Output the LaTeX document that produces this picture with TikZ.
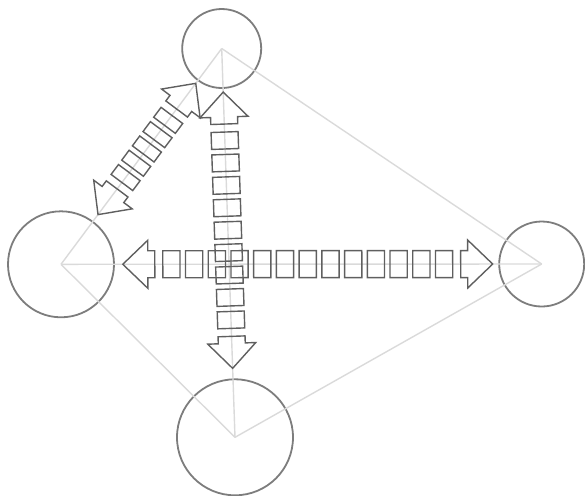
\documentclass[tikz,border=0pt]{standalone}
\usetikzlibrary{calc}
\definecolor{ringgray}{RGB}{125,125,125}
\definecolor{linkgray}{RGB}{218,218,218}
\definecolor{arrowgray}{RGB}{95,95,95}
\tikzset{
  ring/.style={circle, draw=ringgray, line width=0.9pt, inner sep=0pt},
  link/.style={draw=linkgray, line width=0.7pt},
  blockline/.style={draw=arrowgray, line width=0.7pt, line join=miter},
}
\newcommand{\blockarrow}[3]{%
  \path let \p1=(#1), \p2=(#2) in \pgfextra{%
    \pgfmathsetmacro\bAang{atan2(\y2-\y1,\x2-\x1)}%
    \pgfmathsetmacro\bAlen{2*veclen(\x2-\x1,\y2-\y1)}%
    \global\let\BAang\bAang \global\let\BAlen\bAlen};
  \begin{scope}[shift={(#1)}, rotate=\BAang, x=0.5pt, y=0.5pt]
    \pgfmathsetmacro\BApitch{(\BAlen-80+5.5)/#3}
    \path[blockline] (0,0) -- (25,24) -- (25,13.5) -- (32,13.5) -- (32,-13.5) -- (25,-13.5) -- (25,-24) -- cycle;
    \path[blockline] (\BAlen,0) -- ({\BAlen-25},24) -- ({\BAlen-25},13.5) -- ({\BAlen-32},13.5) -- ({\BAlen-32},-13.5) -- ({\BAlen-25},-13.5) -- ({\BAlen-25},-24) -- cycle;
    \foreach \i in {1,...,#3} {
      \path[blockline] ({40+(\i-1)*\BApitch},-13.5) rectangle ({40+\i*\BApitch-5.5},13.5);
    }
  \end{scope}
}
\begin{document}
\begin{tikzpicture}[x=0.5pt, y=-0.5pt]
  \useasboundingbox (0,0) rectangle (585,495);
  % circles
  \node[ring, minimum size=39.5pt] (T) at (221.7,48.5) {};
  \node[ring, minimum size=53pt]   (L) at (61,264.3) {};
  \node[ring, minimum size=42.5pt] (R) at (541.7,264) {};
  \node[ring, minimum size=58pt]   (B) at (235,437.3) {};
  % links between centres
  \draw[link] (T.center) -- (R.center);
  \draw[link] (R.center) -- (B.center);
  \draw[link] (B.center) -- (L.center);
  \draw[link] (L.center) -- (T.center);
  \draw[link] (L.center) -- (R.center);
  \draw[link] (T.center) -- (B.center);
  % arrow end points
  \coordinate (h1) at ($(L.center)!30.9pt!(R.center)$);
  \coordinate (h2) at ($(R.center)!24.5pt!(L.center)$);
  \coordinate (v1) at ($(T.center)!21.8pt!(B.center)$);
  \coordinate (v2) at ($(B.center)!34.5pt!(T.center)$);
  \coordinate (d1) at ($(L.center)!31pt!(T.center)$);
  \coordinate (d2) at ($(T.center)!21.5pt!(L.center)$);
  % block arrows
  \blockarrow{h1}{h2}{13}
  \blockarrow{v1}{v2}{9}
  \blockarrow{d1}{d2}{5}
\end{tikzpicture}
\end{document}
